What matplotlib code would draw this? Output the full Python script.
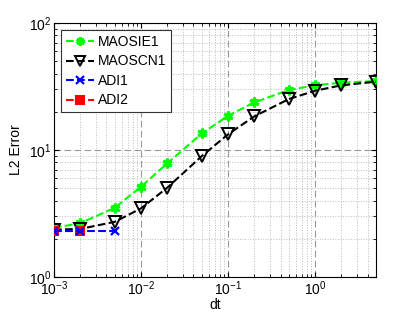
import matplotlib
matplotlib.use('Agg')
import matplotlib.pyplot as plt

plt.rcParams['font.family'] = ['Liberation Sans', 'DejaVu Sans']
plt.rcParams['mathtext.fontset'] = 'custom'
plt.rcParams['mathtext.rm'] = 'Liberation Sans'

dt = [1e-3, 2e-3, 5e-3, 1e-2, 2e-2, 5e-2, 1e-1, 2e-1, 5e-1, 1, 2, 5]
maosie1 = [2.44, 2.65, 3.51, 5.14, 7.85, 13.5, 18.6, 23.7, 29.7, 32.3, 33.9, 34.9]
maoscn1 = [2.36, 2.39, 2.72, 3.47, 5.05, 8.97, 13.3, 18.4, 25.2, 29.3, 32.3, 34.5]
dt_adi1 = [1e-3, 2e-3, 5e-3]
adi1 = [2.30, 2.30, 2.30]
dt_adi2 = [1e-3, 2e-3]
adi2 = [2.30, 2.30]

fig = plt.figure(figsize=(4.15, 3.12), dpi=100)
ax = fig.add_axes([54/415, 1 - 277/312, 322/415, 254/312])

ax.loglog(dt, maosie1, '--', color='#00ff00', marker=(6, 2, 0), ms=7, lw=1.5,
          mec='#00ff00', mew=2.2, label='MAOSIE1', zorder=3)
ax.loglog(dt, maoscn1, '--', color='k', marker='v', ms=8, lw=1.5,
          mfc='none', mec='k', mew=1.4, label='MAOSCN1', zorder=3)
ax.loglog(dt_adi1, adi1, '--', color='b', marker='x', ms=6, lw=1.5,
          mew=1.6, label='ADI1', zorder=4)
ax.loglog(dt_adi2, adi2, '--', color='r', marker='s', ms=6, lw=1.5,
          mfc='r', mec='r', mew=1.5, label='ADI2', zorder=3)

ax.set_xlim(1e-3, 5)
ax.set_ylim(1, 100)
ax.grid(True, which='major', ls=(0, (6, 3)), color='#999999', lw=0.8)
ax.grid(True, which='minor', ls=':', color='#bbbbbb', lw=0.7)
ax.tick_params(which='both', direction='in', top=True, right=True, labelsize=10)
ax.tick_params(axis='x', which='major', pad=2)
ax.tick_params(axis='y', which='major', pad=2)
ax.set_xlabel('dt', fontsize=10, va='center')
ax.xaxis.set_label_coords(0.5, -0.11)
ax.set_ylabel('L2 Error', fontsize=10, labelpad=4)
for s in ax.spines.values():
    s.set_linewidth(0.8)

leg = ax.legend(loc='upper left', fontsize=10, fancybox=False, edgecolor='#333333',
                handlelength=2.0, handletextpad=0.3, borderpad=0.35,
                labelspacing=0.4, framealpha=1, markerscale=0.85)
leg.get_frame().set_linewidth(0.8)

plt.savefig('out.png')
